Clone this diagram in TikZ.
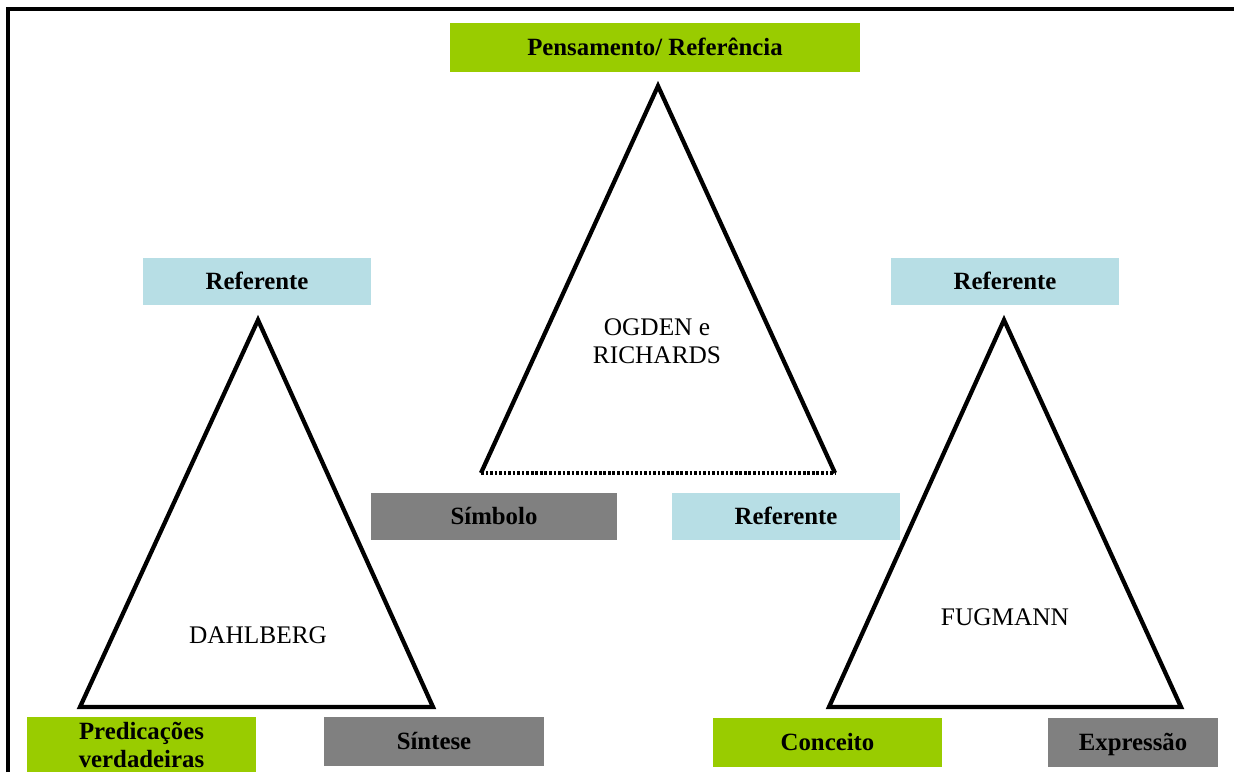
\documentclass[tikz,border=0pt]{standalone}
\usepackage{fontspec}
\setmainfont{Liberation Serif}
\definecolor{leaf}{HTML}{99CC00}
\definecolor{pale}{HTML}{B7DEE5}
\definecolor{slate}{HTML}{808080}
\begin{document}
\begin{tikzpicture}[x=0.75pt,y=-0.75pt,
  lbl/.style={inner sep=0pt,outer sep=0pt,font=\fontsize{18.6}{21}\selectfont\bfseries,text=black,align=center},
  oneline/.style={text height=14pt,text depth=2pt},
  greenbox/.style={lbl,fill=leaf},
  bluebox/.style={lbl,oneline,fill=pale},
  greybox/.style={lbl,oneline,fill=slate},
  trilabel/.style={inner sep=0pt,font=\fontsize{19}{21}\selectfont,align=center},
  triside/.style={line width=3.2pt,line join=miter},
  dotbase/.style={line width=2.6pt,dash pattern=on 2pt off 1.4pt}]
\useasboundingbox (0,0) rectangle (1234,772);
\fill[white] (0,0) rectangle (1234,772);
% partial frame: top and left edges
\draw[line width=2.4pt] (8,772) -- (8,9) -- (1234,9);

% central triangle
\coordinate (ca) at (658,86);
\coordinate (cl) at (481,473);
\coordinate (cr) at (835,473);
\draw[triside] (cl) -- (ca) -- (cr);
\draw[dotbase] (cl) -- (cr);
\node[trilabel] (ogden) at (657,341) {OGDEN e\\RICHARDS};

% left triangle
\coordinate (la) at (258,320);
\coordinate (ll) at (80,707);
\coordinate (lr) at (433,707);
\draw[triside] (ll) -- (la) -- (lr) -- cycle;
\node[trilabel] (dahl) at (258,635) {DAHLBERG};

% right triangle
\coordinate (ra) at (1004,320);
\coordinate (rl) at (829,707);
\coordinate (rr) at (1181,707);
\draw[triside] (rl) -- (ra) -- (rr) -- cycle;
\node[trilabel] (fug) at (1005,617) {FUGMANN};

% labelled boxes
\node[greenbox,oneline,minimum width=307.5pt,minimum height=36.75pt] (pens) at (655,47.5) {Pensamento/ Referência};
\node[bluebox,minimum width=171pt,minimum height=35.25pt] (refL) at (257,281.5) {Referente};
\node[bluebox,minimum width=171pt,minimum height=35.25pt] (refR) at (1005,281.5) {Referente};
\node[greybox,minimum width=184.5pt,minimum height=35.25pt] (simb) at (494,516) {Símbolo};
\node[bluebox,minimum width=171pt,minimum height=35.25pt] (refC) at (786,516) {Referente};
\node[greenbox,minimum width=171.75pt,minimum height=41.25pt] (pred) at (141.5,744.5) {Predicações\\verdadeiras};
\node[greybox,minimum width=165pt,minimum height=36.75pt] (sint) at (434,741.5) {Síntese};
\node[greenbox,oneline,minimum width=171.75pt,minimum height=36.75pt] (conc) at (827.5,742) {Conceito};
\node[greybox,minimum width=127.5pt,minimum height=36.75pt] (expr) at (1133,742) {Expressão};
\end{tikzpicture}
\end{document}
